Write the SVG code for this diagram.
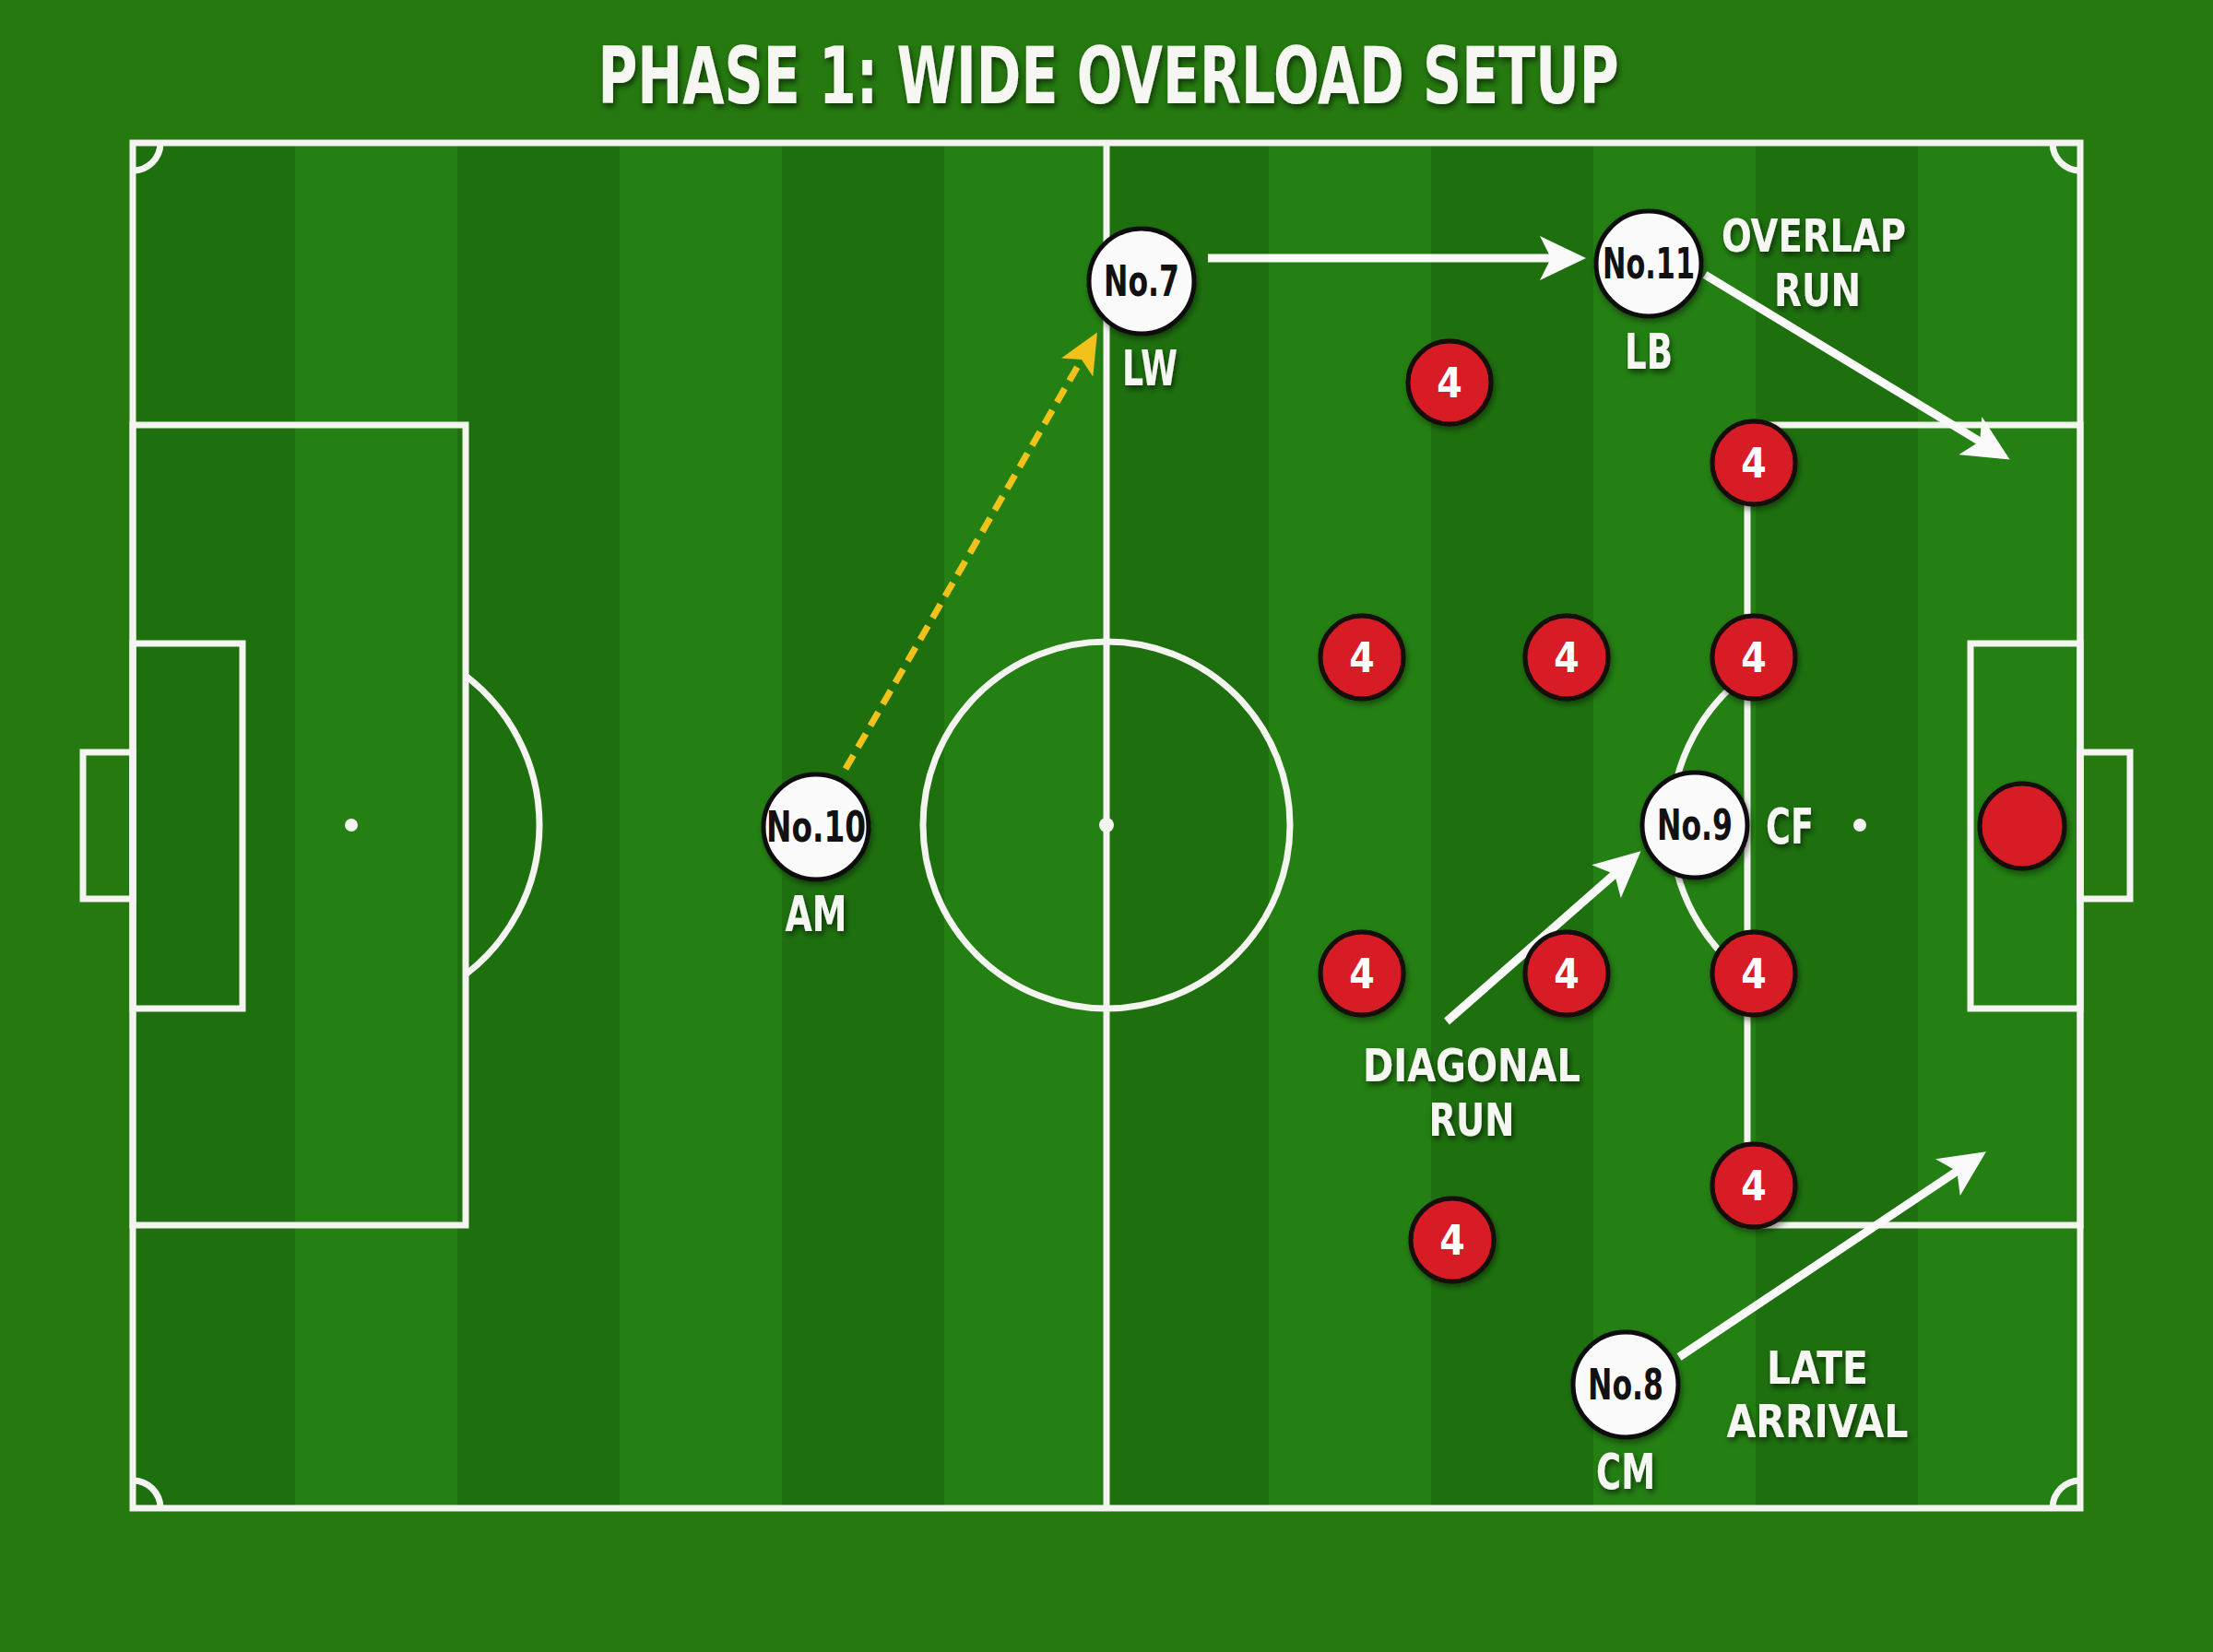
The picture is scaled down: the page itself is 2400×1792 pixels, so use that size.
<svg xmlns="http://www.w3.org/2000/svg" width="2400" height="1792" viewBox="0 0 2400 1792">
<defs>
<style>
.ln{fill:none;stroke:#f4f4f0;stroke-width:7}
.dk{fill:#1e700f}
.lt{fill:#248013}
.lbl{font-family:"Liberation Sans Narrow","DejaVu Sans Condensed","Roboto Condensed","Liberation Sans",sans-serif;font-weight:700;font-stretch:condensed;fill:#f6f6f2;text-anchor:middle;filter:url(#ts)}
.num{font-family:"Liberation Sans Narrow","DejaVu Sans Condensed","Roboto Condensed","Liberation Sans",sans-serif;font-weight:700;font-stretch:condensed;fill:#111;text-anchor:middle;font-size:46px}
.rnum{font-family:"Liberation Sans Narrow","DejaVu Sans Condensed","Roboto Condensed","Liberation Sans",sans-serif;font-weight:700;font-stretch:condensed;fill:#fff;text-anchor:middle;font-size:44px}
.wp{fill:#fbfbfb;stroke:#111;stroke-width:5;filter:url(#cs)}
.rp{fill:#d81f26;stroke:#160808;stroke-width:5;filter:url(#cs)}
.arr{fill:none;stroke:#fafafa;stroke-width:9}
.yarr{fill:none;stroke:#f2c21b;stroke-width:7;stroke-dasharray:17 10}
</style>
<filter id="ts" x="-20%" y="-30%" width="140%" height="170%"><feDropShadow dx="2" dy="4" stdDeviation="3" flood-color="#000" flood-opacity="0.55"/></filter>
<filter id="cs" x="-30%" y="-30%" width="160%" height="160%"><feDropShadow dx="2" dy="4" stdDeviation="3" flood-color="#000" flood-opacity="0.4"/></filter>
<marker id="ah" viewBox="0 0 50 48" refX="20" refY="24" markerWidth="50" markerHeight="48" markerUnits="userSpaceOnUse" orient="auto"><path d="M0,0 L50,24 L0,48 L12,24 Z" fill="#fafafa"/></marker>
<marker id="yah" viewBox="0 0 44 40" refX="18" refY="20" markerWidth="44" markerHeight="40" markerUnits="userSpaceOnUse" orient="auto"><path d="M0,0 L44,20 L0,40 L10,20 Z" fill="#f2c21b"/></marker>
</defs>
<rect x="0" y="0" width="2400" height="1792" fill="#25790f"/>
<g id="stripes">
<rect class="dk" x="144" y="155" width="176" height="1481"/>
<rect class="lt" x="320" y="155" width="176" height="1481"/>
<rect class="dk" x="496" y="155" width="176" height="1481"/>
<rect class="lt" x="672" y="155" width="176" height="1481"/>
<rect class="dk" x="848" y="155" width="176" height="1481"/>
<rect class="lt" x="1024" y="155" width="176" height="1481"/>
<rect class="dk" x="1200" y="155" width="176" height="1481"/>
<rect class="lt" x="1376" y="155" width="176" height="1481"/>
<rect class="dk" x="1552" y="155" width="176" height="1481"/>
<rect class="lt" x="1728" y="155" width="176" height="1481"/>
<rect class="dk" x="1904" y="155" width="176" height="1481"/>
<rect class="lt" x="2080" y="155" width="176" height="1481"/>
</g>
<g id="pitch">
<rect class="ln" x="144" y="155" width="2112" height="1481"/>
<line class="ln" x1="1200" y1="155" x2="1200" y2="1636"/>
<circle class="ln" cx="1200" cy="895" r="199"/>
<circle cx="1200" cy="895" r="8" fill="#f4f4f0"/>
<rect class="ln" x="144" y="461" width="361" height="868"/>
<rect class="ln" x="144" y="698" width="119" height="396"/>
<rect class="ln" x="90" y="816" width="54" height="159"/>
<circle cx="381" cy="895" r="7" fill="#f4f4f0"/>
<path class="ln" d="M505,733 A204,204 0 0 1 505,1057"/>
<rect class="ln" x="1895" y="461" width="361" height="868"/>
<rect class="ln" x="2137" y="698" width="119" height="396"/>
<rect class="ln" x="2256" y="816" width="54" height="159"/>
<circle cx="2017" cy="895" r="7" fill="#f4f4f0"/>
<path class="ln" d="M1895,731 A204,204 0 0 0 1895,1059"/>
<path class="ln" d="M174,155 A30,30 0 0 1 144,185"/>
<path class="ln" d="M2226,155 A30,30 0 0 0 2256,185"/>
<path class="ln" d="M144,1606 A30,30 0 0 1 174,1636"/>
<path class="ln" d="M2256,1606 A30,30 0 0 0 2226,1636"/>
</g>
<text class="lbl" x="1202" y="112" font-size="86" textLength="1107" lengthAdjust="spacingAndGlyphs">PHASE 1: WIDE OVERLOAD SETUP</text>
<g id="connectors">
<line class="arr" x1="1310" y1="280" x2="1690" y2="280" marker-end="url(#ah)"/>
<line class="arr" x1="1849" y1="298" x2="2154" y2="483" marker-end="url(#ah)"/>
<line class="arr" x1="1569" y1="1108" x2="1757" y2="943" marker-end="url(#ah)"/>
<line class="arr" x1="1821" y1="1472" x2="2129" y2="1266" marker-end="url(#ah)"/>
<line class="yarr" x1="917" y1="834" x2="1177" y2="383" marker-end="url(#yah)"/>
</g>
<g id="defenders">
<g id="d1"><circle class="rp" cx="1572" cy="415" r="45"/><text class="rnum" x="1572" y="431">4</text></g>
<g id="d2"><circle class="rp" cx="1902" cy="502" r="45"/><text class="rnum" x="1902" y="518">4</text></g>
<g id="d3"><circle class="rp" cx="1477" cy="713" r="45"/><text class="rnum" x="1477" y="729">4</text></g>
<g id="d4"><circle class="rp" cx="1699" cy="713" r="45"/><text class="rnum" x="1699" y="729">4</text></g>
<g id="d5"><circle class="rp" cx="1902" cy="713" r="45"/><text class="rnum" x="1902" y="729">4</text></g>
<g id="d6"><circle class="rp" cx="1477" cy="1056" r="45"/><text class="rnum" x="1477" y="1072">4</text></g>
<g id="d7"><circle class="rp" cx="1699" cy="1056" r="45"/><text class="rnum" x="1699" y="1072">4</text></g>
<g id="d8"><circle class="rp" cx="1902" cy="1056" r="45"/><text class="rnum" x="1902" y="1072">4</text></g>
<g id="d9"><circle class="rp" cx="1902" cy="1286" r="45"/><text class="rnum" x="1902" y="1302">4</text></g>
<g id="d10"><circle class="rp" cx="1575" cy="1345" r="45"/><text class="rnum" x="1575" y="1361">4</text></g>
<g id="gk"><circle class="rp" cx="2193" cy="896" r="46"/></g>
</g>
<g id="p7"><circle class="wp" cx="1238" cy="305" r="57"/><text class="num" x="1238" y="321" textLength="82" lengthAdjust="spacingAndGlyphs">No.7</text><text class="lbl" x="1247" y="418" font-size="54" textLength="60" lengthAdjust="spacingAndGlyphs">LW</text></g>
<g id="p11"><circle class="wp" cx="1788" cy="286" r="57"/><text class="num" x="1788" y="302" textLength="100" lengthAdjust="spacingAndGlyphs">No.11</text><text class="lbl" x="1788" y="400" font-size="54" textLength="52" lengthAdjust="spacingAndGlyphs">LB</text></g>
<g id="p10"><circle class="wp" cx="885" cy="897" r="57"/><text class="num" x="885" y="913" textLength="108" lengthAdjust="spacingAndGlyphs">No.10</text><text class="lbl" x="885" y="1010" font-size="54" textLength="67" lengthAdjust="spacingAndGlyphs">AM</text></g>
<g id="p9"><circle class="wp" cx="1838" cy="895" r="57"/><text class="num" x="1838" y="911" textLength="82" lengthAdjust="spacingAndGlyphs">No.9</text><text class="lbl" x="1941" y="915" font-size="54" textLength="52" lengthAdjust="spacingAndGlyphs">CF</text></g>
<g id="p8"><circle class="wp" cx="1763" cy="1502" r="57"/><text class="num" x="1763" y="1518" textLength="82" lengthAdjust="spacingAndGlyphs">No.8</text><text class="lbl" x="1763" y="1615" font-size="54" textLength="64" lengthAdjust="spacingAndGlyphs">CM</text></g>
<g id="labels">
<text class="lbl" x="1967" y="273" font-size="49" textLength="200" lengthAdjust="spacingAndGlyphs">OVERLAP</text>
<text class="lbl" x="1971" y="332" font-size="49" textLength="94" lengthAdjust="spacingAndGlyphs">RUN</text>
<text class="lbl" x="1596" y="1173" font-size="49" textLength="236" lengthAdjust="spacingAndGlyphs">DIAGONAL</text>
<text class="lbl" x="1596" y="1232" font-size="49" textLength="93" lengthAdjust="spacingAndGlyphs">RUN</text>
<text class="lbl" x="1971" y="1501" font-size="49" textLength="110" lengthAdjust="spacingAndGlyphs">LATE</text>
<text class="lbl" x="1971" y="1559" font-size="49" textLength="197" lengthAdjust="spacingAndGlyphs">ARRIVAL</text>
</g>
</svg>
